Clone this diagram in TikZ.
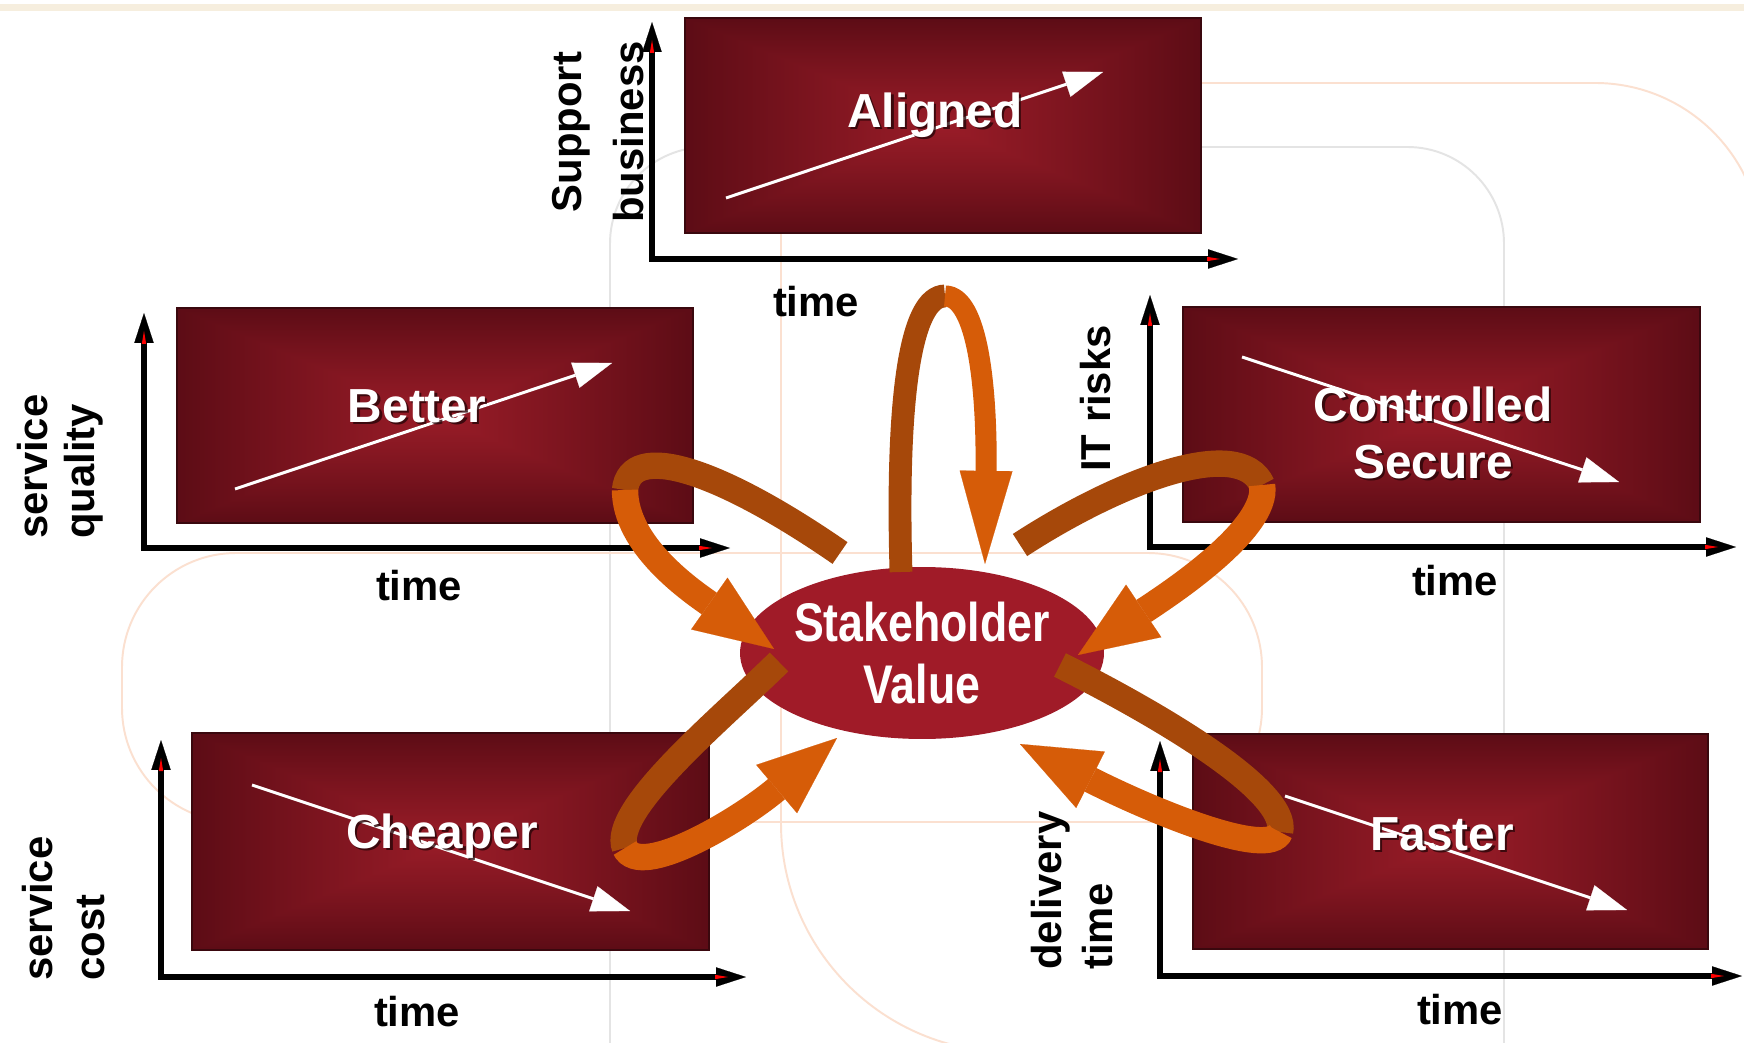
\documentclass[tikz,border=0pt]{standalone}
\usepackage{fontspec}
\setmainfont{Liberation Sans}
\newfontfamily\narrowfam{Liberation Sans}[FakeStretch=0.82]
\usetikzlibrary{arrows.meta,shapes.geometric}
\definecolor{brownband}{RGB}{166,72,10}
\definecolor{orangeband}{RGB}{214,92,8}
\definecolor{svred}{RGB}{160,27,40}
\definecolor{bgorange}{RGB}{251,224,208}
\definecolor{bggray}{RGB}{228,228,228}
\definecolor{topband}{RGB}{246,238,222}
\definecolor{boxedge}{RGB}{58,8,14}
\pgfdeclarefunctionalshading{boxglow}{\pgfpoint{-50bp}{-50bp}}{\pgfpoint{50bp}{50bp}}{}{
  abs exch abs 2 copy lt {exch} if pop 25 div dup 1 gt {pop 1} if dup 0.7 mul exch 0.3 mul dup mul add
  dup 0.30 mul 0.60 exch sub
  exch dup 0.08 mul 0.11 exch sub
  exch 0.09 mul 0.155 exch sub
}
\newcommand{\lblfont}{\fontsize{23.8}{28}\selectfont\bfseries}
\newcommand{\ttlfont}{\fontsize{27.2}{32}\selectfont\bfseries}
\tikzset{
  chartbox/.style={shading=boxglow, draw=boxedge, line width=0.6pt},
  axisline/.style={line width=2.9pt, line join=miter,
    {Triangle[length=17pt,width=11pt,line width=0.1pt]}-{Triangle[length=17pt,width=11pt,line width=0.1pt]}},
  trendarrow/.style={white, line width=1.7pt, -{Triangle[length=22pt,width=15pt,line width=0.1pt]}},
  axislabel/.style={font=\lblfont, inner sep=0pt},
  sidelabel/.style={axislabel, rotate=90, anchor=base west},
  titletext/.style={font=\ttlfont, text=white, inner sep=0pt},
  titleshadow/.style={font=\ttlfont, text={rgb,255:red,40;green,5;blue,8}, opacity=0.8, inner sep=0pt},
  backband/.style={draw=brownband, line width=15pt},
  frontband/.style={draw=orangeband, line width=15pt,
    -{Triangle[length=45pt,width=36pt,line width=0.1pt]}},
  backbandtop/.style={draw=brownband, line width=13pt},
  frontbandtop/.style={draw=orangeband, line width=12pt,
    -{Triangle[length=53pt,width=30pt,line width=0.1pt]}},
  bgline/.style={line width=1.1pt},
}
\newcommand{\chartaxes}[4]{%
  \draw[axisline] (#1,#3) |- (#4,#2);
  \fill[red] ({#1-2.2},{#3+31}) -- ({#1+2.2},{#3+31}) -- (#1,{#3+18}) -- cycle;
  \fill[red] ({#4-31},{#2-2.2}) -- ({#4-31},{#2+2.2}) -- ({#4-18},#2) -- cycle;
}
\newcommand{\charttitle}[4]{%
  \node[titleshadow] (#1s) at ({#2+2.5},{#3+2.5}) {#4};
  \node[titletext] (#1) at (#2,#3) {#4};
}
\begin{document}
\begin{tikzpicture}[x=0.02cm,y=-0.02cm]
\useasboundingbox (0,0) rectangle (1744,1043);
\fill[white] (0,0) rectangle (1744,1043);
% ---- faint slide background ----
\fill[topband] (0,4) rectangle (1744,11);
\draw[bgline, bggray, rounded corners=55] (610,1060) |- (1504,147) -- (1504,1060);
\draw[bgline, bgorange, rounded corners=65] (122,553) rectangle (1262,822);
\draw[bgline, bgorange, rounded corners=130] (1000,1052) -| (781,83);
\draw[bgline, bgorange, rounded corners=95] (790,83) -| (1762,400);

% ---- chart panels ----
\path[chartbox] (685,18) rectangle (1201,233);
\path[chartbox] (177,308) rectangle (693,523);
\path[chartbox] (1183,307) rectangle (1700,522);
\path[chartbox] (192,733) rectangle (709,950);
\path[chartbox] (1193,734) rectangle (1708,949);

% trend arrows
\coordinate (alA) at (726,198);  \coordinate (alB) at (1103,72);
\coordinate (beA) at (235,489);  \coordinate (beB) at (612,363);
\coordinate (coA) at (1242,357); \coordinate (coB) at (1619,482);
\coordinate (chA) at (252,785);  \coordinate (chB) at (630,911);
\coordinate (faA) at (1285,796); \coordinate (faB) at (1627,910);
\draw[trendarrow] (alA) -- (alB);
\draw[trendarrow] (beA) -- (beB);
\draw[trendarrow] (coA) -- (coB);
\draw[trendarrow] (chA) -- (chB);
\draw[trendarrow] (faA) -- (faB);

% titles
\charttitle{tAligned}{935}{115}{Aligned}
\charttitle{tBetter}{417}{406}{Better}
\charttitle{tControlled}{1433}{404}{Controlled}
\charttitle{tSecure}{1433}{462}{Secure}
\charttitle{tCheaper}{442}{836}{Cheaper}
\charttitle{tFaster}{1442}{834}{Faster}

% axes
\chartaxes{652}{259}{22}{1238}
\chartaxes{144}{548}{313}{730}
\chartaxes{1150}{547}{295}{1736}
\chartaxes{161}{977}{740}{746}
\chartaxes{1160}{976}{741}{1742}

% axis labels
\node[axislabel] (timeA) at (816,302) {time};
\node[axislabel] (timeB) at (419,586) {time};
\node[axislabel] (timeC) at (1455,581) {time};
\node[axislabel] (timeD) at (417,1012) {time};
\node[axislabel] (timeE) at (1460,1010) {time};
\node[axislabel, rotate=90, anchor=base] (lSupport) at (581,132) {Support};
\node[axislabel, rotate=90, anchor=base] (lBusiness) at (643,132) {business};
\node[sidelabel] (lService1) at (47,539) {service};
\node[sidelabel] (lQuality) at (94,539) {quality};
\node[sidelabel] (lRisks) at (1110,472) {IT risks};
\node[sidelabel] (lService2) at (52,981) {service};
\node[sidelabel] (lCost) at (104,981) {cost};
\node[sidelabel] (lDelivery) at (1061,970) {delivery};
\node[sidelabel] (lDtime) at (1112,970) {time};

% ---- central stakeholder value ----
\node[ellipse, fill=svred, minimum width=7.28cm, minimum height=3.44cm, inner sep=0pt,
      text=white, align=center,
      font=\narrowfam\bfseries\fontsize{31}{35.7}\selectfont] (sv) at (922,653)
      {Stakeholder\\Value};

% ---- looping ribbons ----
% top (Aligned)
\draw[backbandtop] (901,572) .. controls (896,400) and (910,296) .. (945,296);
\draw[frontbandtop] (945,296) .. controls (978,296) and (987,390) .. (985,564);
% upper left (Better)
\draw[backband] (840,553) .. controls (720,470) and (630,440) .. (625,490);
\draw[frontband] (625,490) .. controls (625,545) and (690,590) .. (774,649);
% upper right (Controlled)
\draw[backband] (1020,545) .. controls (1120,480) and (1240,435) .. (1262,485);
\draw[frontband] (1262,485) .. controls (1270,530) and (1160,600) .. (1078,655);
% lower left (Cheaper)
\draw[backband] (779,662) .. controls (720,720) and (610,810) .. (625,848);
\draw[frontband] (625,848) .. controls (640,880) and (740,820) .. (837,738);
% lower right (Faster)
\draw[backband] (1060,665) .. controls (1150,710) and (1290,790) .. (1280,832);
\draw[frontband] (1280,832) .. controls (1270,860) and (1150,810) .. (1020,744);
\end{tikzpicture}
\end{document}
